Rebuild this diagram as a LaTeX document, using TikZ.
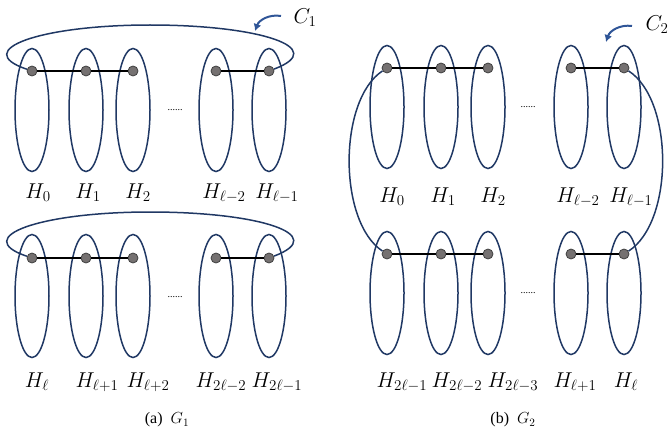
\documentclass[tikz,border=0pt]{standalone}
\usepackage{fix-cm}
\usepackage{fontspec}
\setmainfont{Liberation Serif}
\usetikzlibrary{shapes.geometric,arrows.meta}
\definecolor{navy}{HTML}{203864}
\definecolor{cblue}{HTML}{2F5597}
\definecolor{vgray}{HTML}{757171}
\tikzset{
  part/.style={ellipse, draw=navy, line width=1.5pt, minimum width=34pt, minimum height=123pt, inner sep=0pt},
  vtx/.style={circle, draw=black!75, fill=vgray, line width=0.8pt, minimum size=10pt, inner sep=0pt},
  link/.style={black, line width=1.5pt},
  cyc/.style={navy, line width=1.5pt},
  carrow/.style={cblue, line width=2pt, -{Latex[length=7pt,width=8pt]}},
  hlbl/.style={font=\fontsize{21.5}{24}\selectfont, inner sep=0pt},
  more/.style={font=\fontsize{10}{12}\selectfont, inner sep=0pt},
  capt/.style={font=\fontsize{16}{18}\selectfont, inner sep=0pt}
}

\begin{document}
\begin{tikzpicture}[x=1pt,y=-1pt]
\useasboundingbox (0,0) rectangle (671,433);

%---------------- panel (a): G_1 -----------------
\foreach \i/\x in {0/32,1/86,2/133,3/216,4/269}{
  \node[part] (A\i) at (\x,110) {};
  \node[part] (B\i) at (\x,296) {};
  \node[vtx] (a\i) at (\x,71) {};
  \node[vtx] (b\i) at (\x,258) {};
}
\draw[link] (a0) -- (a1) -- (a2);
\draw[link] (a3) -- (a4);
\draw[link] (b0) -- (b1) -- (b2);
\draw[link] (b3) -- (b4);
% the two cycles over the rows
\draw[cyc] (a0) .. controls (-30,50) and (40,25) .. (150,25)
                .. controls (260,25) and (330,48) .. (a4);
\draw[cyc] (b0) .. controls (-30,237) and (40,212) .. (150,212)
                .. controls (260,212) and (330,235) .. (b4);
\node[more] (adots) at (175,110) {......};
\node[more] (bdots) at (175,297) {......};
\foreach \i/\x/\t in {0/38/H_0, 1/88/H_1, 2/138/H_2, 3/224/H_{\ell-2}, 4/277/H_{\ell-1}}{
  \node[hlbl] (la\i) at (\x,193) {$\t$};
}
\foreach \i/\x/\t in {0/37/H_{\ell}, 1/97/H_{\ell+1}, 2/148/H_{\ell+2}, 3/221/H_{2\ell-2}, 4/277/H_{2\ell-1}}{
  \node[hlbl] (lb\i) at (\x,382) {$\t$};
}
\coordinate (c1tail) at (281,16);
\coordinate (c1head) at (255,31);
\draw[carrow] (c1tail) to[bend right=40] (c1head);
\node[hlbl] (C1) at (305,18) {$C_1$};
\node[capt] (capa) at (167,420) {(a)\ \ $G_1$};

%---------------- panel (b): G_2 -----------------
\foreach \i/\x in {0/387,1/441,2/488,3/571,4/624}{
  \node[part] (C\i) at (\x,107) {};
  \node[part] (D\i) at (\x,293) {};
  \node[vtx] (c\i) at (\x,68) {};
  \node[vtx] (d\i) at (\x,254) {};
}
\draw[link] (c0) -- (c1) -- (c2);
\draw[link] (c3) -- (c4);
\draw[link] (d0) -- (d1) -- (d2);
\draw[link] (d3) -- (d4);
% cycle closing through both rows
\draw[cyc] (c0) .. controls (338,100) and (338,222) .. (d0);
\draw[cyc] (c4) .. controls (674,100) and (674,222) .. (d4);
\node[more] (cdots) at (528,107) {......};
\node[more] (ddots) at (528,293) {......};
\foreach \i/\x/\t in {0/392/H_0, 1/443/H_1, 2/493/H_2, 3/578/H_{\ell-2}, 4/631/H_{\ell-1}}{
  \node[hlbl] (lc\i) at (\x,197) {$\t$};
}
\foreach \i/\x/\t in {0/402/H_{2\ell-1}, 1/457/H_{2\ell-2}, 2/513/H_{2\ell-3}, 3/575/H_{\ell+1}, 4/626/H_{\ell}}{
  \node[hlbl] (ld\i) at (\x,382) {$\t$};
}
\coordinate (c2tail) at (632,26);
\coordinate (c2head) at (606,42);
\draw[carrow] (c2tail) to[bend right=40] (c2head);
\node[hlbl] (C2) at (657,25) {$C_2$};
\node[capt] (capb) at (513,420) {(b)\ \ $G_2$};

\end{tikzpicture}
\end{document}
